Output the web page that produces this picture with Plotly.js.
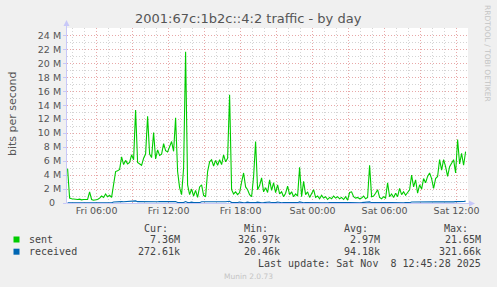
<!DOCTYPE html>
<html>
<head>
<meta charset="utf-8">
<script src="https://cdn.plot.ly/plotly-3.0.1.min.js"></script>
<style>
html,body{margin:0;padding:0;background:#F0F0F0;}
#chart{width:497px;height:287px;}
</style>
</head>
<body>
<div id="chart"></div>
<script>
// ---- data (Mbit/s, one sample every 10 minutes starting Fri 03:35) ----
const sentM = [
4.9,0.7,0.6,0.55,0.6,0.5,0.55,0.45,0.5,0.45,
0.5,1.6,0.5,0.4,0.45,0.5,0.7,1.0,0.8,1.3,
0.9,1.1,0.8,3.0,4.5,4.6,4.8,6.6,5.5,6.1,
5.6,5.8,6.9,6.2,13.3,5.8,5.6,5.4,6.4,7.0,
12.4,7.0,6.5,10.1,6.3,7.6,6.8,7.0,8.5,7.5,
7.3,8.0,8.8,7.4,12.2,4.5,2.2,1.2,5.0,21.65,
2.6,1.2,2.0,1.0,1.8,0.8,2.3,2.6,1.1,0.9,
4.5,5.9,6.2,5.3,6.1,5.4,6.2,5.5,6.9,5.9,
6.4,15.5,1.9,1.3,1.6,1.2,1.5,3.0,4.3,2.3,
1.9,1.2,0.9,3.8,8.8,1.9,2.5,3.6,1.6,2.2,
1.5,3.3,1.8,2.9,1.5,2.6,1.3,1.6,0.9,1.4,
2.4,1.2,1.6,0.9,1.3,1.0,5.1,0.9,3.1,1.2,
1.6,0.8,1.3,1.9,0.8,1.0,0.6,1.1,0.7,0.9,
0.5,0.8,0.6,1.0,0.7,0.9,0.6,0.8,0.5,0.9,
0.4,1.5,1.6,0.9,0.7,0.8,0.6,0.7,1.0,0.6,
0.8,5.4,0.9,1.0,1.4,1.9,0.8,0.6,0.9,0.7,
2.9,0.9,1.3,0.8,1.4,0.9,2.1,1.2,1.6,1.1,
1.5,1.9,4.0,2.3,3.3,1.4,2.6,2.0,3.5,2.9,
3.8,4.3,3.5,2.1,3.5,3.8,6.2,4.7,6.2,5.2,
3.8,5.2,5.7,6.2,4.3,9.1,5.6,7.1,5.4,7.36
];
const receivedM = [
0.03,0.03,0.02,0.03,0.04,0.03,0.02,0.03,0.03,0.04,
0.03,0.05,0.03,0.02,0.03,0.03,0.04,0.03,0.04,0.05,
0.04,0.03,0.04,0.15,0.18,0.19,0.17,0.2,0.18,0.19,
0.17,0.2,0.19,0.21,0.3,0.19,0.18,0.2,0.17,0.19,
0.2,0.18,0.19,0.2,0.17,0.18,0.2,0.19,0.18,0.2,
0.19,0.18,0.2,0.19,0.22,0.08,0.05,0.12,0.06,0.2,
0.06,0.05,0.12,0.05,0.06,0.1,0.05,0.17,0.18,0.17,
0.19,0.18,0.17,0.18,0.19,0.17,0.18,0.19,0.18,0.17,
0.19,0.25,0.06,0.05,0.04,0.06,0.13,0.05,0.04,0.05,
0.12,0.05,0.04,0.06,0.05,0.12,0.05,0.04,0.05,0.06,
0.05,0.15,0.05,0.04,0.06,0.15,0.05,0.04,0.05,0.04,
0.06,0.05,0.04,0.05,0.06,0.05,0.16,0.05,0.04,0.05,
0.04,0.05,0.06,0.04,0.05,0.04,0.05,0.06,0.04,0.05,
0.04,0.05,0.04,0.05,0.06,0.04,0.05,0.04,0.05,0.04,
0.05,0.06,0.04,0.05,0.04,0.05,0.04,0.05,0.06,0.04,
0.05,0.16,0.05,0.04,0.05,0.04,0.05,0.06,0.04,0.05,
0.04,0.05,0.06,0.04,0.05,0.04,0.05,0.06,0.04,0.05,
0.04,0.05,0.14,0.15,0.13,0.16,0.15,0.14,0.16,0.15,
0.17,0.14,0.16,0.15,0.17,0.16,0.15,0.18,0.16,0.17,
0.15,0.18,0.17,0.16,0.19,0.18,0.2,0.19,0.22,0.27
];
const yTickVals = [0,2,4,6,8,10,12,14,16,18,20,22,24];
const yTickText = ['0\u00a0\u00a0','2 M','4 M','6 M','8 M','10 M','12 M','14 M','16 M','18 M','20 M','22 M','24 M'];
const xTickVals = ['2025-11-07 06:00','2025-11-07 09:00','2025-11-07 12:00','2025-11-07 15:00','2025-11-07 18:00','2025-11-07 21:00',
                   '2025-11-08 00:00','2025-11-08 03:00','2025-11-08 06:00','2025-11-08 09:00','2025-11-08 12:00'];
const xTickText = ['Fri 06:00','','Fri 12:00','','Fri 18:00','','Sat 00:00','','Sat 06:00','','Sat 12:00'];
const seriesNames = ['sent','received'];
const seriesColors = ['#00CC00','#0066B3'];
const curVals = ['7.36M','272.61k'];
const minVals = ['326.97k','20.46k'];
const avgVals = ['2.97M','94.18k'];
const maxVals = ['21.65M','321.66k'];
const titleText = '2001:67c:1b2c::4:2 traffic - by day';
const yTitle = 'bits per second';
const lastUpdate = 'Last update: Sat Nov\u00a0 8 12:45:28 2025';

// ---- build ----
const t0 = Date.UTC(2025,10,7,3,35);
const step = 600000;
const xs = sentM.map((_,i)=>t0+i*step);
const rangeStart = Date.UTC(2025,10,7,3,32);
const rangeEnd = rangeStart + 401/12*3600000;

// pixel -> paper helpers (plot area: x 67..468, y 28..203)
const PL=67, PW=401, PB=203, PH=175;
const px = x => (x-PL)/PW;
const py = y => (PB-y)/PH;

const traces = [
  {x: xs, y: sentM, type:'scatter', mode:'lines', name: seriesNames[0],
   line:{color: seriesColors[0], width:1.1}, hoverinfo:'skip'},
  {x: xs, y: receivedM, type:'scatter', mode:'lines', name: seriesNames[1],
   line:{color: seriesColors[1], width:1.1}, hoverinfo:'skip'}
];

const txtColor = '#555555';
const mono = 'DejaVu Sans Mono, monospace';
const ann = [];
function A(text,x,y,anchor,size,color,fam,angle){
  ann.push({text:text, x:px(x), y:py(y), xref:'paper', yref:'paper', xanchor:anchor, yanchor:'middle',
    showarrow:false, textangle: angle||0, font:{family: fam||'DejaVu Sans', size:size, color:color||txtColor}});
}
A(titleText, 248, 18.5, 'center', 13, '#555555');
A(yTitle, 12, 114, 'center', 11, '#555555', 'DejaVu Sans', -90);
A('RRDTOOL / TOBI OETIKER', 488, 53, 'center', 7.5, '#c4c4c4', 'DejaVu Sans', 90);
A('Cur:', 169.5, 228, 'right', 10, '#444', mono);
A('Min:', 269.5, 228, 'right', 10, '#444', mono);
A('Avg:', 369.5, 228, 'right', 10, '#444', mono);
A('Max:', 470, 228, 'right', 10, '#444', mono);
const rowsY = [239.5, 251.7];
const shapes = [];
for (let r=0;r<2;r++){
  A(seriesNames[r], 26.5, rowsY[r], 'left', 10, '#444', mono);
  A(curVals[r], 181.5, rowsY[r], 'right', 10, '#444', mono);
  A(minVals[r], 282, rowsY[r], 'right', 10, '#444', mono);
  A(avgVals[r], 382, rowsY[r], 'right', 10, '#444', mono);
  A(maxVals[r], 482.5, rowsY[r], 'right', 10, '#444', mono);
  shapes.push({type:'rect', xref:'paper', yref:'paper', x0:px(13.5), x1:px(19.5), y0:py(rowsY[r]-3), y1:py(rowsY[r]+3),
    fillcolor: seriesColors[r], line:{width:0}});
}
A(lastUpdate, 482.5, 263.8, 'right', 10, '#444', mono);
A('Munin 2.0.73', 248, 276, 'center', 7.5, '#c4c4c4');

// axis arrows
const axisCol = '#c8c8f8';
shapes.push({type:'line', xref:'paper', yref:'paper', x0:px(66.5), x1:px(66.5), y0:py(203), y1:py(24), line:{color:axisCol, width:1}});
shapes.push({type:'path', xref:'paper', yref:'paper',
  path:`M ${px(66.5)} ${py(20)} L ${px(63.5)} ${py(26)} L ${px(69.5)} ${py(26)} Z`, fillcolor:axisCol, line:{width:0}});
shapes.push({type:'line', xref:'paper', yref:'paper', x0:px(66.5), x1:px(471), y0:py(203.5), y1:py(203.5), line:{color:axisCol, width:1}});
shapes.push({type:'path', xref:'paper', yref:'paper',
  path:`M ${px(475)} ${py(203.5)} L ${px(469)} ${py(200.5)} L ${px(469)} ${py(206.5)} Z`, fillcolor:axisCol, line:{width:0}});

const redGrid = '#e8a8a8', grayGrid = '#d4d4d4';
const layout = {
  width:497, height:287,
  margin:{l:67, r:29, t:28, b:84, pad:0},
  paper_bgcolor:'#F0F0F0', plot_bgcolor:'#FFFFFF',
  showlegend:false,
  xaxis:{type:'date', range:[rangeStart, rangeEnd], tickmode:'array', tickvals:xTickVals, ticktext:xTickText,
    showgrid:true, gridcolor:redGrid, griddash:'1px,2px', gridwidth:1,
    minor:{tickmode:'linear', tick0:'2025-11-07 00:00', dtick:3600000, showgrid:true, gridcolor:grayGrid, griddash:'1px,2px', gridwidth:1},
    ticks:'', showline:false, zeroline:false,
    tickfont:{family:'DejaVu Sans', size:9.5, color:txtColor}, fixedrange:true},
  yaxis:{range:[0, 25.05], tickmode:'array', tickvals:yTickVals, ticktext:yTickText,
    showgrid:true, gridcolor:redGrid, griddash:'1px,2px', gridwidth:1,
    minor:{tickmode:'linear', tick0:0, dtick:1, showgrid:true, gridcolor:grayGrid, griddash:'1px,2px', gridwidth:1},
    ticks:'outside', ticklen:3, tickcolor:axisCol, showline:false, zeroline:false,
    tickfont:{family:'DejaVu Sans', size:9.5, color:txtColor}, fixedrange:true},
  annotations: ann,
  shapes: shapes
};
Plotly.newPlot('chart', traces, layout, {staticPlot:true, displayModeBar:false});
</script>
</body>
</html>
